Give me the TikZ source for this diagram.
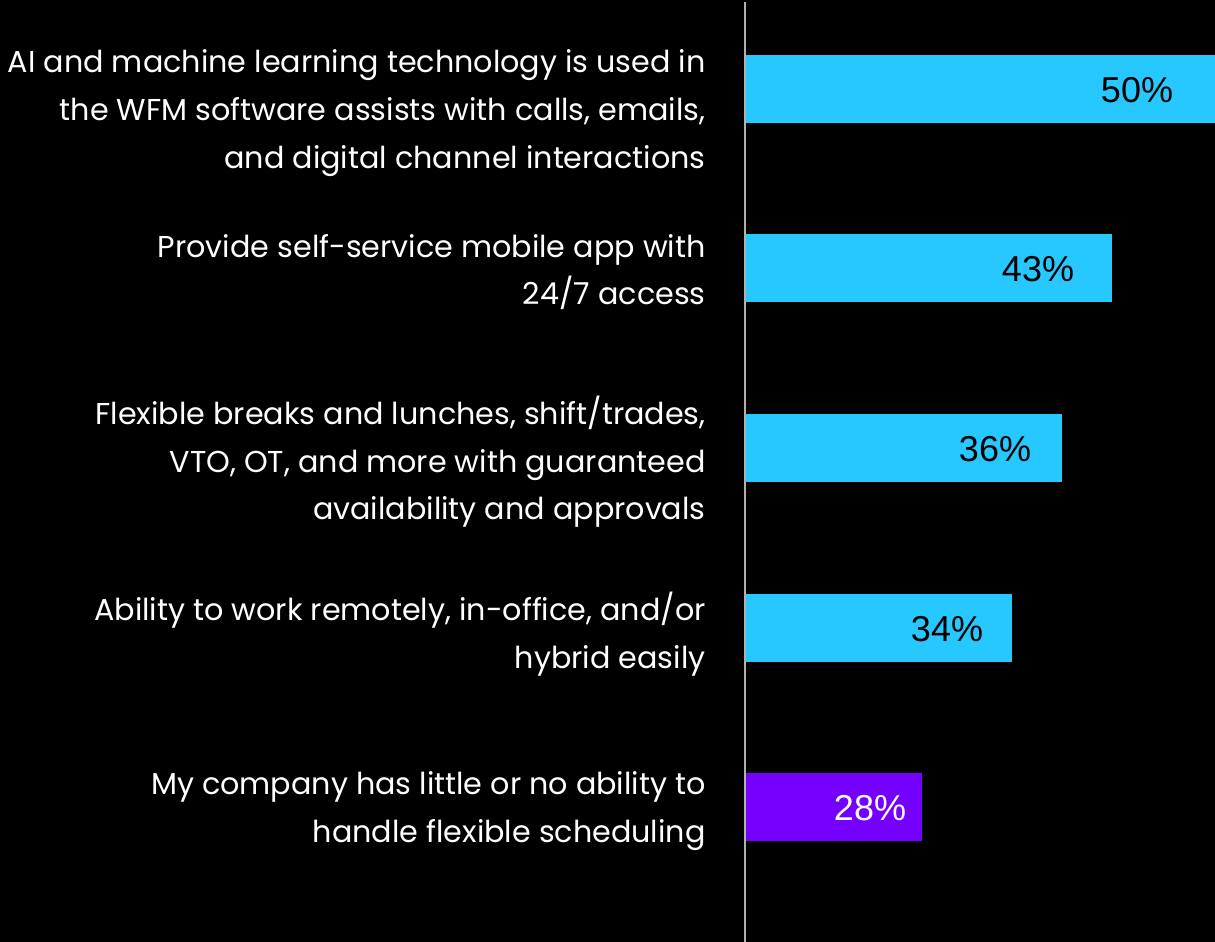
\documentclass[tikz,border=0pt]{standalone}
\usepackage{fontspec}
\setmainfont{Poppins}
\newfontfamily\pctfont{Liberation Sans}
\definecolor{barblue}{HTML}{26C8FF}
\definecolor{barpurple}{HTML}{7500FF}
\definecolor{axisgray}{HTML}{B0B0B0}
\tikzset{
  itemlabel/.style={anchor=east, align=right, text=white, inner sep=0pt,
    font=\fontsize{15.1}{23.8}\selectfont},
  pct/.style={font=\pctfont\fontsize{18}{20}\selectfont, inner sep=0pt},
}
\begin{document}
\begin{tikzpicture}[x=0.5pt,y=-0.5pt]
      \fill[black] (0,0) rectangle (1215,942);
      \useasboundingbox (0,0) rectangle (1215,942);
      % bars
      \fill[barblue] (745,55) rectangle (1215,123);
      \fill[barblue] (745,234) rectangle (1112,302);
      \fill[barblue] (745,414) rectangle (1062,482);
      \fill[barblue] (745,594) rectangle (1012,662);
      \fill[barpurple] (745,773) rectangle (922,841);
      % axis
      \draw[axisgray, line width=1pt] (744.5,2) -- (744.5,942);
      % values
      \node[pct] (v1) at (1137,90) {50\%};
      \node[pct] (v2) at (1038,269) {43\%};
      \node[pct] (v3) at (995,449) {36\%};
      \node[pct] (v4) at (947,629) {34\%};
      \node[pct, text=white] (v5) at (870,808) {28\%};
      % labels
      \node[itemlabel] (l1) at (706,113) {AI and machine learning technology is used in\\the WFM software assists with calls, emails,\\and digital channel interactions};
      \node[itemlabel] (l2) at (706,272) {Provide self-service mobile app with\\24/7 access};
      \node[itemlabel] (l3) at (706,462) {Flexible breaks and lunches, shift/trades,\\VTO, OT, and more with guaranteed\\availability and approvals};
      \node[itemlabel] (l4) at (706,634) {Ability to work remotely, in-office, and/or\\hybrid easily};
      \node[itemlabel] (l5) at (706,811) {My company has little or no ability to\\handle flexible scheduling};
\end{tikzpicture}
\end{document}
